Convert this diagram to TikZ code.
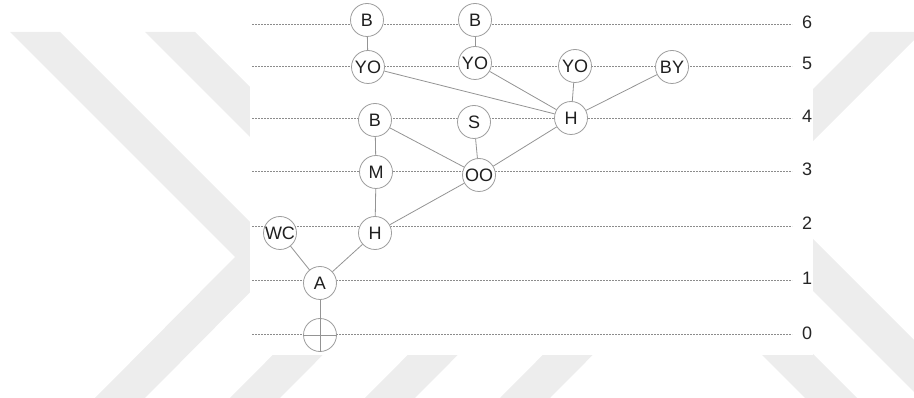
\documentclass[tikz,border=0pt]{standalone}
\usepackage{fontspec}
\setmainfont{Liberation Sans}
\begin{document}
\begin{tikzpicture}[x=1pt,y=-1pt,
  wm/.style={fill=black!7,draw=none},
  lvl/.style={draw=black!45,line width=1pt,dash pattern=on 1.6pt off 1.4pt},
  st/.style={circle,draw=black!38,line width=0.8pt,fill=white,minimum size=33pt,inner sep=0pt,font=\fontsize{18}{18}\selectfont,text=black!88},
  lab/.style={font=\fontsize{18}{18}\selectfont,text=black!85},
  edge/.style={draw=black!42,line width=0.8pt}]
\useasboundingbox (0,0) rectangle (914,398);
% watermark
\begin{scope}
\clip (0,32) rectangle (914,398);
\foreach \k in {0,135,270,405}{
  \fill[wm] (10+\k,32) -- (60+\k,32) -- (285+\k,257) -- (145+\k,398) -- (95+\k,398) -- (235+\k,257) -- cycle;
}
\foreach \k in {0,-115}{
  \fill[wm] (712+\k,190) -- (870+\k,32) -- (922+\k,32) -- (764+\k,190) -- (972+\k,398) -- (920+\k,398) -- cycle;
}
\end{scope}
\fill[white] (250,0) rectangle (813,355);
% levels
\foreach \yl/\yt/\n in {25/22/6,67/63/5,119/116/4,172/169/3,227/223/2,281/278/1,335/333/0}{
  \draw[lvl] (252,\yl) -- (792,\yl);
  \node[lab] (lab\n) at (807,\yt) {\n};
}
% nodes
\node[st] (B6a) at (367,20) {B};
\node[st] (B6b) at (475,20) {B};
\node[st] (YO5a) at (368,67) {YO};
\node[st] (YO5b) at (475,63) {YO};
\node[st] (YO5c) at (575,66) {YO};
\node[st] (BY) at (672,67) {BY};
\node[st] (B4) at (375,120) {B};
\node[st] (S) at (474,122) {S};
\node[st] (H4) at (571,118) {H};
\node[st] (M) at (376,172) {M};
\node[st] (OO) at (479,175) {OO};
\node[st] (WC) at (280,233) {WC};
\node[st] (H2) at (375,233) {H};
\node[st] (A) at (320,283) {A};
\node[st] (R) at (320,335) {};
% edges
\draw[edge] (B6a) -- (YO5a);
\draw[edge] (B6b) -- (YO5b);
\draw[edge] (YO5a) -- (H4);
\draw[edge] (YO5b) -- (H4);
\draw[edge] (YO5c) -- (H4);
\draw[edge] (BY) -- (H4);
\draw[edge] (B4) -- (M);
\draw[edge] (B4) -- (OO);
\draw[edge] (S) -- (OO);
\draw[edge] (OO) -- (H4);
\draw[edge] (M) -- (H2);
\draw[edge] (H2) -- (OO);
\draw[edge] (WC) -- (A);
\draw[edge] (H2) -- (A);
\draw[edge] (A) -- (R.south);
\draw[edge] (R.west) -- (R.east);
\end{tikzpicture}
\end{document}
